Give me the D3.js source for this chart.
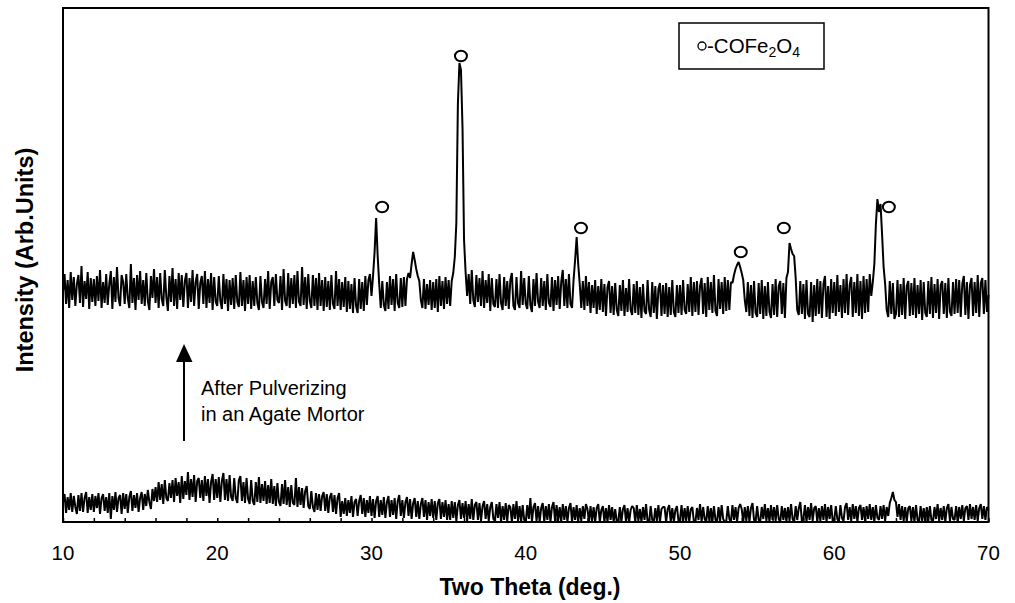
<!DOCTYPE html>
<html>
<head>
<meta charset="utf-8">
<script src="https://cdn.jsdelivr.net/npm/d3@7"></script>
<style>
  html, body { margin: 0; padding: 0; background: #fff; }
  svg { display: block; }
  text { font-family: "Liberation Sans", Arial, Helvetica, sans-serif; fill: #000; }
</style>
</head>
<body>
<svg id="chart" width="1015" height="603"></svg>
<script>
// ---- data (two-theta grid: 10.0 .. 70.0 in 0.1 deg steps) ----
const thetaStart = 10;
const thetaStep = 0.1;

// upper trace: after pulverizing (arb. units)
const topTrace = [
  230,248,218,242,214,250,222,245,216,238,
  247,219,256,215,241,223,250,213,244,220,
  243,216,246,221,252,214,240,219,248,217,
  238,251,213,245,220,255,224,216,247,240,
  218,248,224,214,258,219,244,212,247,222,
  251,218,242,216,249,221,212,246,224,253,
  219,245,214,249,223,216,252,225,211,246,
  220,254,216,243,213,249,222,247,215,241,
  249,214,244,220,252,216,240,248,213,239,
  246,218,251,214,243,219,249,212,245,220,
  216,246,221,213,248,218,243,211,242,217,
  244,213,247,220,215,250,216,242,211,245,
  218,247,213,241,216,245,219,212,246,220,
  214,243,218,251,213,240,245,216,248,222,
  219,246,212,253,221,216,249,214,244,218,
  247,214,251,220,216,255,217,245,213,248,
  221,214,247,216,244,212,249,216,242,211,
  245,215,241,212,247,218,213,251,216,243,
  212,240,215,245,210,241,213,238,209,244,
  216,209,243,213,240,211,246,217,242,248,
  226,246,270,304,266,238,214,241,217,211,
  240,213,246,217,243,211,248,219,214,244,
  215,245,216,243,249,244,258,270,262,253,
  246,241,222,214,243,213,238,217,242,212,
  240,214,243,210,246,216,241,213,245,218,
  242,216,241,249,265,299,418,459,452,395,
  282,250,226,248,218,252,222,215,247,220,
  244,216,251,214,242,219,248,211,244,218,
  215,243,214,248,219,212,245,216,241,213,
  242,249,216,212,245,219,214,251,217,244,
  218,213,246,217,210,243,216,249,220,214,
  244,216,241,212,248,219,215,245,211,242,
  217,246,213,240,252,216,243,214,248,218,
  214,242,262,285,258,238,214,241,212,246,
  216,240,209,237,214,242,208,236,212,243,
  210,238,206,235,241,209,236,207,239,212,
  206,237,211,242,206,234,210,243,212,207,
  238,209,241,207,235,204,238,211,208,242,
  212,205,240,209,236,203,233,239,206,237,
  208,239,205,235,207,242,210,205,237,209,
  237,207,242,212,208,238,210,245,206,240,
  210,241,207,236,244,208,239,205,245,212,
  240,209,247,211,206,243,213,240,208,245,
  211,242,212,240,239,247,253,257,260,255,
  249,242,222,210,240,206,237,204,241,209,
  205,239,208,242,203,236,206,240,210,204,
  238,207,243,205,236,241,208,239,204,244,
  250,279,273,268,266,244,212,207,241,208,
  238,203,242,208,205,240,200,237,206,243,
  208,241,204,238,246,205,236,203,243,209,
  240,206,247,210,237,204,243,209,248,207,
  237,245,205,240,209,248,206,241,203,246,
  209,243,210,248,226,240,258,298,323,310,
  318,288,255,238,212,205,241,208,239,203,
  208,242,205,238,207,244,203,236,241,206,
  239,207,244,204,237,208,242,202,240,209,
  205,241,208,245,204,238,209,243,203,237,
  241,208,239,204,244,210,206,240,208,243,
  209,242,205,238,246,207,240,203,237,244,
  206,240,209,247,205,239,244,208,242,210,
  227
];

// lower trace: before pulverizing (arb. units)
const bottomTrace = [
  20,28,9,25,12,29,10,26,15,8,
  27,11,29,10,24,30,9,25,12,28,
  10,26,14,29,8,24,28,11,25,9,
  29,3,26,12,30,10,24,27,8,29,
  13,28,9,25,31,11,27,14,29,10,
  24,30,12,28,16,32,20,13,33,21,
  35,20,40,22,38,18,42,24,21,39,
  24,42,20,44,26,40,19,46,23,41,
  27,50,22,43,25,47,20,41,44,24,
  42,21,46,26,43,19,40,48,22,43,
  24,45,20,41,49,22,43,21,47,25,
  21,44,24,19,42,46,21,40,19,44,
  23,18,42,21,17,40,20,45,19,38,
  21,41,18,37,19,43,18,36,16,39,
  20,16,38,18,42,17,35,15,37,19,
  17,44,15,35,17,34,14,31,36,16,
  13,31,15,10,29,12,28,11,26,30,
  11,28,9,25,29,10,27,8,24,29,
  5,21,8,24,6,22,9,26,5,20,
  23,6,21,27,8,24,5,22,9,26,
  6,23,4,21,26,5,22,7,25,4,
  20,26,5,22,7,24,3,21,27,6,
  22,4,20,25,6,23,3,19,24,5,
  21,3,18,24,5,22,2,20,6,23,
  4,21,2,19,23,3,20,5,22,2,
  18,2,21,4,20,1,17,22,3,19,
  4,21,1,18,3,23,2,17,20,2,
  19,1,16,21,3,18,1,15,20,3,
  1,18,4,20,0,16,2,19,1,17,
  15,0,18,3,21,1,16,0,17,2,
  0,17,3,24,0,15,19,1,16,0,
  14,19,0,16,2,18,0,15,20,1,
  17,1,15,0,18,2,16,0,14,19,
  0,15,2,17,0,14,1,16,3,18,
  13,0,16,1,15,0,14,18,0,12,
  16,0,14,0,17,2,15,0,13,0,
  1,15,0,13,17,0,14,0,12,16,
  14,0,17,1,13,0,15,2,18,0,
  0,16,2,0,14,1,17,0,13,15,
  15,0,13,17,0,14,0,12,16,1,
  2,17,0,14,1,16,0,13,15,0,
  0,14,2,18,0,15,3,0,16,1,
  14,0,16,2,0,15,1,17,3,0,
  1,16,3,0,17,2,15,0,14,18,
  13,0,15,1,16,0,14,19,2,0,
  16,2,0,15,3,18,1,14,0,17,
  2,15,1,17,3,0,16,2,14,0,
  15,1,18,3,0,16,2,14,20,1,
  3,17,0,15,2,19,1,14,16,0,
  14,1,16,2,18,0,15,3,17,1,
  2,16,3,0,17,4,1,15,19,2,
  15,1,18,3,16,0,14,17,2,15,
  1,16,3,18,2,15,0,17,4,2,
  16,3,17,1,15,6,19,24,30,22,
  20,5,18,2,16,1,15,0,14,16,
  1,15,0,17,2,0,16,1,14,0,
  15,1,16,2,0,15,3,18,1,14,
  2,16,0,14,18,1,15,3,2,16,
  0,15,3,17,1,14,16,2,18,3,
  15,2,17,1,14,18,3,16,2,15,
  12
];

// CoFe2O4 peak markers (two-theta, marker height in arb. units)
const markerTheta = [30.69, 35.80, 43.58, 53.94, 56.73, 63.54];
const markerValue = [315, 466, 294, 270, 294, 315];

const xTickLabels = [10, 20, 30, 40, 50, 60, 70];
const xMinorTicks = d3.range(10, 70.001, 2);

// ---- layout ----
const svg = d3.select("#chart");
const plotLeft = 63, plotRight = 988.5, plotTop = 8, plotBottom = 522;

const x = d3.scaleLinear().domain([10, 70]).range([plotLeft, plotRight]);
const y = d3.scaleLinear().domain([0, 514]).range([plotBottom, plotTop]);

const toPoints = arr => arr.map((v, i) => [thetaStart + i * thetaStep, v]);

const line = d3.line().x(d => x(d[0])).y(d => y(d[1]));

const plot = svg.append("g");

plot.append("path")
  .datum(toPoints(bottomTrace))
  .attr("d", line)
  .attr("fill", "none")
  .attr("stroke", "#000")
  .attr("stroke-width", 2)
  .attr("stroke-linejoin", "bevel");

plot.append("path")
  .datum(toPoints(topTrace))
  .attr("d", line)
  .attr("fill", "none")
  .attr("stroke", "#000")
  .attr("stroke-width", 2)
  .attr("stroke-linejoin", "bevel");

// markers
plot.selectAll("ellipse.mk")
  .data(markerTheta.map((t, i) => [t, markerValue[i]]))
  .enter().append("ellipse")
  .attr("class", "mk")
  .attr("cx", d => x(d[0]))
  .attr("cy", d => y(d[1]))
  .attr("rx", 6)
  .attr("ry", 5.3)
  .attr("fill", "#fff")
  .attr("stroke", "#000")
  .attr("stroke-width", 2);

// frame
svg.append("rect")
  .attr("x", plotLeft).attr("y", plotTop)
  .attr("width", plotRight - plotLeft).attr("height", plotBottom - plotTop)
  .attr("fill", "none").attr("stroke", "#000").attr("stroke-width", 2);

// bottom axis ticks (inward)
const xAxis = d3.axisBottom(x)
  .tickValues(xMinorTicks)
  .tickSizeInner(-4)
  .tickSizeOuter(0)
  .tickFormat("");
const ax = svg.append("g").attr("transform", `translate(0,${plotBottom})`).call(xAxis);
ax.select(".domain").remove();
ax.selectAll(".tick line").attr("stroke", "#000").attr("stroke-width", 1.5);

// tick labels
svg.append("g").selectAll("text")
  .data(xTickLabels)
  .enter().append("text")
  .attr("x", d => x(d))
  .attr("y", 560)
  .attr("text-anchor", "middle")
  .style("font-size", "20.5px")
  .text(d => d);

// axis titles
svg.append("text")
  .attr("x", 530).attr("y", 595)
  .attr("text-anchor", "middle")
  .style("font-size", "23px").style("font-weight", "bold")
  .text("Two Theta (deg.)");

svg.append("text")
  .attr("transform", "translate(33,260) rotate(-90)")
  .attr("text-anchor", "middle")
  .style("font-size", "23.5px").style("font-weight", "bold")
  .text("Intensity (Arb.Units)");

// legend
const lg = svg.append("g");
lg.append("rect")
  .attr("x", 679).attr("y", 23).attr("width", 145).attr("height", 46)
  .attr("fill", "#fff").attr("stroke", "#000").attr("stroke-width", 1.5);
lg.append("circle")
  .attr("cx", 702).attr("cy", 46).attr("r", 4)
  .attr("fill", "none").attr("stroke", "#000").attr("stroke-width", 1.3);
const lt = lg.append("text").attr("x", 707).attr("y", 53).style("font-size", "20.5px");
lt.append("tspan").text("-COFe");
lt.append("tspan").attr("dy", 4).style("font-size", "14px").text("2");
lt.append("tspan").attr("dy", -4).text("O");
lt.append("tspan").attr("dy", 4).style("font-size", "14px").text("4");

// annotation arrow
svg.append("line")
  .attr("x1", 184).attr("y1", 441).attr("x2", 184).attr("y2", 358)
  .attr("stroke", "#000").attr("stroke-width", 2);
svg.append("path")
  .attr("d", "M176,362 L192.5,362 L184,344 Z")
  .attr("fill", "#000");

svg.append("text").attr("x", 201).attr("y", 395)
  .style("font-size", "20px").text("After Pulverizing");
svg.append("text").attr("x", 201).attr("y", 421)
  .style("font-size", "20px").text("in an Agate Mortor");
</script>
</body>
</html>
